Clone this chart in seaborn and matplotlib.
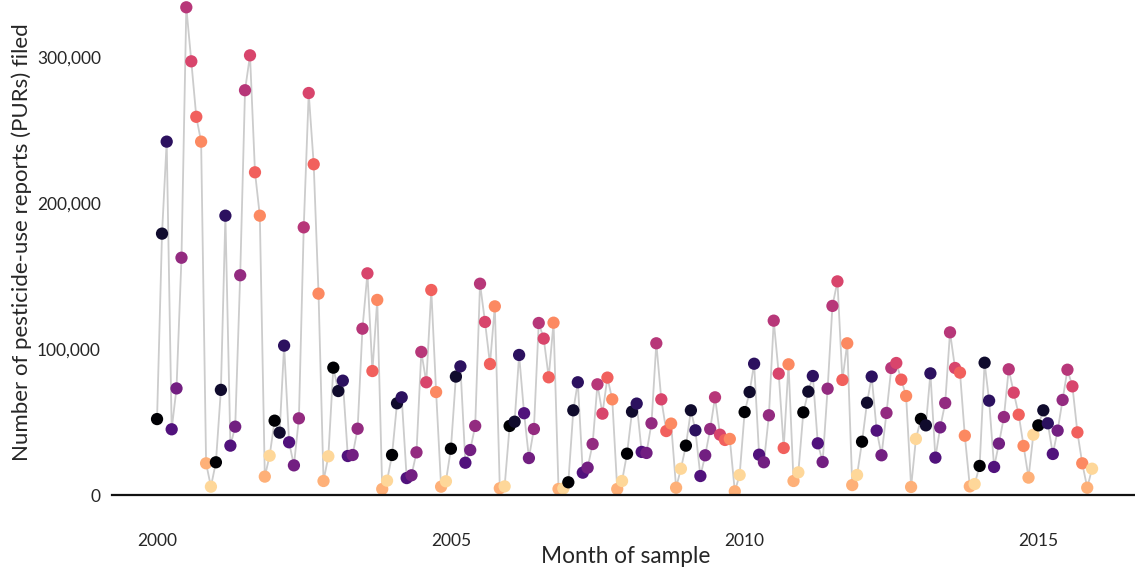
import pandas as pd
import seaborn as sns
import matplotlib.pyplot as plt
import matplotlib.dates as mdates
from matplotlib.ticker import FuncFormatter

# monthly PUR counts, one row per year (Jan..Dec)
years = list(range(2000, 2016))
purs_2000 = [52000, 179000, 242000, 45000, 73000, 162500, 334000, 297000, 259000, 242000, 21700, 5700]
purs_2001 = [22400, 72000, 191300, 33800, 46800, 150500, 277200, 301100, 221000, 191300, 12600, 26900]
purs_2002 = [50900, 42700, 102300, 36100, 20300, 52500, 183300, 275300, 226500, 137900, 9600, 26500]
purs_2003 = [87200, 71200, 78300, 26700, 27400, 45400, 113900, 151800, 84900, 133600, 4100, 9800]
purs_2004 = [27400, 62800, 66900, 11600, 13500, 29200, 98000, 77200, 140400, 70500, 5700, 9400]
purs_2005 = [31700, 81100, 88100, 22100, 30800, 47300, 144700, 118500, 89700, 129200, 4600, 5900]
purs_2006 = [47300, 50200, 95900, 56000, 25300, 45200, 117800, 107100, 80600, 118000, 4100, 4500]
purs_2007 = [8700, 58000, 77200, 15300, 18700, 34900, 75800, 55700, 80400, 65500, 4100, 9600]
purs_2008 = [28300, 57100, 62600, 29500, 28800, 49100, 103900, 65500, 43800, 48900, 5000, 18000]
purs_2009 = [33800, 58000, 44300, 13000, 27200, 45200, 66900, 41300, 37700, 38400, 2500, 13700]
purs_2010 = [56800, 70500, 89900, 27600, 22400, 54600, 119400, 83100, 32200, 89500, 9600, 15500]
purs_2011 = [56600, 70800, 81500, 35400, 22600, 72800, 129500, 146300, 78800, 103900, 6800, 13700]
purs_2012 = [36500, 63200, 81100, 44100, 27200, 56200, 87000, 90400, 79000, 67800, 5500, 38400]
purs_2013 = [52100, 47700, 83300, 25600, 46300, 63000, 111400, 87000, 83800, 40600, 5900, 7500]
purs_2014 = [19900, 90600, 64600, 19200, 35200, 53400, 86100, 70100, 55000, 33600, 11900, 41300]
purs_2015 = [47700, 58000, 49100, 28100, 44100, 65100, 85800, 74400, 42900, 21700, 5000, 18000]

all_years = [purs_2000, purs_2001, purs_2002, purs_2003, purs_2004, purs_2005, purs_2006, purs_2007,
             purs_2008, purs_2009, purs_2010, purs_2011, purs_2012, purs_2013, purs_2014, purs_2015]

rows = []
for yr, vals in zip(years, all_years):
    for m, v in enumerate(vals, start=1):
        rows.append({'date': pd.Timestamp(yr, m, 1), 'month': m, 'purs': v})
df = pd.DataFrame(rows)

sns.set_style('white')
plt.rcParams['font.family'] = ['Lato', 'DejaVu Sans']

fig = plt.figure(figsize=(11.35, 5.75), dpi=100)
ax = fig.add_axes([112 / 1135, 80 / 575, 1023 / 1135, 495 / 575])

sns.lineplot(data=df, x='date', y='purs', color='#cccccc', linewidth=1.3, ax=ax, zorder=1)
sns.scatterplot(data=df, x='date', y='purs', hue='month', palette='magma', hue_norm=(1, 13),
                s=78, linewidth=0, legend=False, ax=ax, zorder=2)

ax.set_xlim(pd.Timestamp('1999-03-27'), pd.Timestamp('2016-08-24'))
ax.set_ylim(0, 339000)
ax.set_yticks([0, 100000, 200000, 300000])
ax.yaxis.set_major_formatter(FuncFormatter(lambda v, p: f'{int(v):,}'))
ax.xaxis.set_major_locator(mdates.YearLocator(5))
ax.xaxis.set_major_formatter(mdates.DateFormatter('%Y'))

ax.tick_params(axis='y', length=0, pad=8, labelsize=12.5)
ax.tick_params(axis='x', length=0, pad=27, labelsize=12.5)

for s in ['left', 'top', 'right']:
    ax.spines[s].set_visible(False)
ax.spines['bottom'].set_color('#111111')
ax.spines['bottom'].set_linewidth(1.6)

ax.set_xlabel('Month of sample', fontsize=16.3)
ax.set_ylabel('Number of pesticide-use reports (PURs) filed', fontsize=16)
ax.xaxis.set_label_coords(0.5025, -0.103)
ax.yaxis.set_label_coords(-0.078, 0.511)

plt.savefig('out.png', dpi=100)
